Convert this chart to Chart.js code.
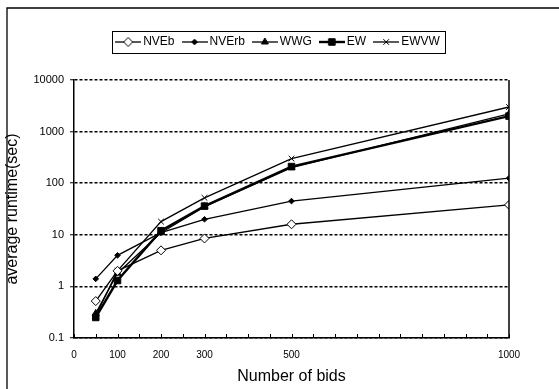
<!DOCTYPE html>
<html>
<head>
<meta charset="utf-8">
<script src="https://cdn.jsdelivr.net/npm/chart.js@4.4.0/dist/chart.umd.min.js"></script>
<style>
  html, body { margin: 0; padding: 0; background: #fff; }
  canvas { display: block; }
</style>
</head>
<body>
<canvas id="chart" width="559" height="389"></canvas>
<script>
// Number of bids on the x axis
const bids = [50, 100, 200, 300, 500, 1000];

// Average runtime (sec) per algorithm
const nvebTimes  = [0.52, 2.0, 5.0, 8.5, 16, 38];
const nverbTimes = [1.4, 4.0, 11, 20, 45, 125];
const wwgTimes   = [0.30, 1.8, 11, 35, 200, 2200];
const ewTimes    = [0.25, 1.3, 12, 36, 210, 2000];
const ewvwTimes  = [0.27, 2.0, 18, 52, 300, 3000];

const seriesNames = ['NVEb', 'NVErb', 'WWG', 'EW', 'EWVW'];

// Tick labels
const xTickLabels = [0, 100, 200, 300, 500, 1000];
const yTickValues = [0.1, 1, 10, 100, 1000, 10000];

const FONT = '"Liberation Sans", Arial, sans-serif';

function pairs(values) {
  return bids.map((b, i) => ({ x: b, y: values[i] }));
}

function series(label, values, style) {
  return Object.assign({
    label,
    data: pairs(values),
    xAxisID: 'x',
    yAxisID: 'y',
    borderColor: '#000',
    borderWidth: 1.3,
    pointBorderColor: '#000',
    pointBackgroundColor: '#000',
    pointBorderWidth: 1,
    pointHoverRadius: 0,
    fill: false,
    tension: 0
  }, style);
}

const datasets = [
  series(seriesNames[0], nvebTimes,  { pointStyle: 'rectRot', pointRadius: 4.5, pointBackgroundColor: '#fff' }),
  series(seriesNames[1], nverbTimes, { pointStyle: 'rectRot', pointRadius: 2.8 }),
  series(seriesNames[2], wwgTimes,   { pointStyle: 'triangle', pointRadius: 4 }),
  series(seriesNames[3], ewTimes,    { pointStyle: 'rect', pointRadius: 4.6, borderWidth: 2.4 }),
  series(seriesNames[4], ewvwTimes,  { pointStyle: 'crossRot', pointRadius: 4, pointBorderWidth: 1 })
];

// Small line-and-marker sample used in the legend
function legendSample(ds) {
  const c = document.createElement('canvas');
  c.width = 26; c.height = 12;
  const g = c.getContext('2d');
  g.strokeStyle = '#000';
  g.lineWidth = ds.borderWidth;
  g.beginPath(); g.moveTo(0, 6); g.lineTo(26, 6); g.stroke();
  g.fillStyle = ds.pointBackgroundColor;
  g.strokeStyle = '#000';
  g.lineWidth = ds.pointBorderWidth;
  Chart.helpers.drawPoint(g, {
    pointStyle: ds.pointStyle, radius: ds.pointRadius, rotation: 0, borderWidth: ds.pointBorderWidth
  }, 13, 6);
  return c;
}
const samples = datasets.map(legendSample);

// Frame, right plot border, inward x tick marks and legend box
const decorations = {
  id: 'decorations',
  afterDraw(chart) {
    const { ctx, chartArea: a, scales: { x } } = chart;
    ctx.save();
    ctx.strokeStyle = '#000';
    ctx.lineWidth = 1;
    ctx.beginPath();
    x.ticks.forEach(t => {
      const px = Math.round(x.getPixelForValue(t.value)) + 0.5;
      ctx.moveTo(px, a.bottom);
      ctx.lineTo(px, a.bottom - 4);
    });
    ctx.stroke();

    ctx.lineWidth = 1.5;
    ctx.beginPath();
    ctx.moveTo(a.right, a.top);
    ctx.lineTo(a.right, a.bottom);
    ctx.stroke();

    // outer frame
    ctx.lineWidth = 1.3;
    ctx.beginPath();
    ctx.moveTo(7, 389);
    ctx.lineTo(7, 8);
    ctx.lineTo(559, 8);
    ctx.stroke();

    // legend box
    const boxes = chart.legend.legendHitBoxes;
    if (boxes && boxes.length) {
      const l = Math.min(...boxes.map(b => b.left)) - 7;
      const r = Math.max(...boxes.map(b => b.left + b.width)) + 5;
      const t = Math.min(...boxes.map(b => b.top)) - 5;
      const btm = Math.max(...boxes.map(b => b.top + b.height)) + 5;
      ctx.lineWidth = 1;
      ctx.strokeRect(Math.round(l) + 0.5, Math.round(t) + 0.5, Math.round(r - l), Math.round(btm - t));
    }
    ctx.restore();
  }
};

new Chart(document.getElementById('chart'), {
  type: 'line',
  data: { datasets },
  plugins: [decorations],
  options: {
    responsive: false,
    animation: false,
    events: [],
    layout: { padding: { left: 0, right: 0, top: 25, bottom: 0 } },
    plugins: {
      tooltip: { enabled: false },
      legend: {
        position: 'top',
        labels: {
          color: '#000',
          font: { family: FONT, size: 12 },
          usePointStyle: true,
          pointStyleWidth: 18,
          padding: 11,
          generateLabels(chart) {
            const items = Chart.defaults.plugins.legend.labels.generateLabels(chart);
            items.forEach((it, i) => { it.pointStyle = samples[i]; });
            return items;
          }
        }
      }
    },
    scales: {
      x: {
        type: 'linear',
        min: 0,
        max: 1000,
        afterBuildTicks(s) {
          const t = [];
          for (let v = 0; v <= 1000; v += 50) t.push({ value: v });
          s.ticks = t;
        },
        afterFit(s) { s.height = 51; },
        grid: { display: false, drawTicks: false },
        border: { display: true, color: '#000', width: 1.5 },
        ticks: {
          autoSkip: false,
          maxRotation: 0,
          padding: 11,
          color: '#000',
          font: { family: FONT, size: 10 },
          callback: v => xTickLabels.includes(v) ? String(v) : ''
        },
        title: {
          display: true,
          text: 'Number of bids',
          color: '#000',
          font: { family: FONT, size: 16 },
          padding: { top: 0, bottom: 3 }
        }
      },
      y: {
        type: 'logarithmic',
        min: 0.1,
        max: 10000,
        afterBuildTicks(s) { s.ticks = yTickValues.map(v => ({ value: v })); },
        afterFit(s) { s.width = 74; },
        grid: {
          color: '#000',
          lineWidth: 1.5,
          drawTicks: true,
          tickLength: 4,
          tickBorderDash: [],
          tickWidth: 1
        },
        border: { display: true, color: '#000', width: 1.5, dash: [3, 2] },
        ticks: {
          padding: 6,
          color: '#000',
          font: { family: FONT, size: 11 },
          callback: v => String(v)
        },
        title: {
          display: true,
          text: 'average runtime(sec)',
          color: '#000',
          font: { family: FONT, size: 16 },
          padding: { top: 3, bottom: 0 }
        }
      },
      gap: {
        type: 'linear',
        axis: 'x',
        position: 'top',
        display: true,
        afterFit(s) { s.height = 22; },
        grid: { display: false, drawTicks: false },
        border: { display: false },
        ticks: { display: false }
      },
      margin: {
        type: 'linear',
        axis: 'y',
        position: 'right',
        display: true,
        afterFit(s) { s.width = 50; },
        grid: { display: false, drawTicks: false },
        border: { display: false },
        ticks: { display: false }
      }
    }
  }
});
</script>
</body>
</html>
